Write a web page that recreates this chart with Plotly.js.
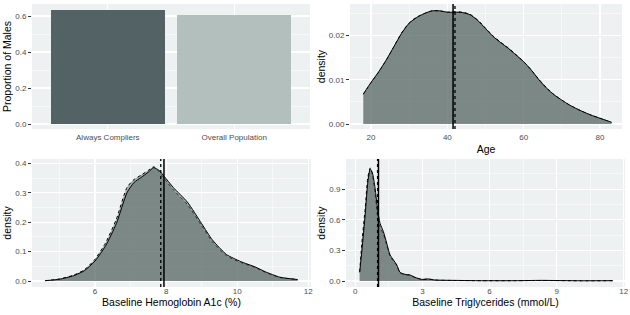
<!DOCTYPE html>
<html>
<head>
<meta charset="utf-8">
<script src="https://cdn.plot.ly/plotly-3.0.1.min.js"></script>
<style>html,body{margin:0;padding:0;background:#fff;}#chart{width:630px;height:315px;}</style>
</head>
<body>
<div id="chart"></div>
<script>
// ---- Data ----
const groups = ['Always Compliers', 'Overall Population'];
const propMales = [0.632, 0.607];
const barColors = ['#536265', '#b3bfbd'];

const ageX = [18, 20, 22, 24, 26, 28, 30, 32, 34, 36, 38, 40, 42, 44, 46, 48, 50, 52, 54, 56, 58, 60, 62, 64, 66, 68, 70, 72, 74, 76, 78, 80, 82, 83];
const ageCompliers = [0.0068, 0.0094, 0.0118, 0.0145, 0.0175, 0.0205, 0.0228, 0.0241, 0.0250, 0.0256, 0.0256, 0.0253, 0.0253, 0.0252, 0.0247, 0.0234, 0.0216, 0.0198, 0.0184, 0.0171, 0.0156, 0.0141, 0.0122, 0.0100, 0.0081, 0.0066, 0.0054, 0.0043, 0.0034, 0.0026, 0.0019, 0.0013, 0.0007, 0.0004];
const ageOverall   = [0.0067, 0.0093, 0.0117, 0.0144, 0.0175, 0.0206, 0.0229, 0.0242, 0.0250, 0.0256, 0.0256, 0.0253, 0.0254, 0.0253, 0.0248, 0.0235, 0.0217, 0.0199, 0.0185, 0.0172, 0.0157, 0.0141, 0.0122, 0.0101, 0.0082, 0.0066, 0.0054, 0.0043, 0.0034, 0.0026, 0.0019, 0.0013, 0.0007, 0.0004];
const ageMeans = [41.5, 42.0];

const hbX = [4.6, 5.0, 5.4, 5.7, 6.0, 6.3, 6.6, 6.9, 7.1, 7.3, 7.5, 7.65, 7.8, 7.95, 8.2, 8.6, 9.0, 9.3, 9.7, 10.1, 10.5, 10.8, 11.2, 11.7];
const hbCompliers = [0.001, 0.006, 0.018, 0.035, 0.068, 0.120, 0.195, 0.300, 0.335, 0.352, 0.370, 0.385, 0.376, 0.355, 0.318, 0.268, 0.195, 0.140, 0.090, 0.066, 0.048, 0.031, 0.013, 0.005];
const hbOverall   = [0.001, 0.007, 0.020, 0.038, 0.074, 0.130, 0.210, 0.318, 0.345, 0.360, 0.376, 0.388, 0.372, 0.348, 0.310, 0.260, 0.188, 0.134, 0.086, 0.063, 0.046, 0.029, 0.012, 0.005];
const hbMeans = [7.94, 7.85];

const tgX = [0.2, 0.3, 0.45, 0.56, 0.67, 0.77, 0.89, 1.0, 1.11, 1.26, 1.41, 1.56, 1.71, 1.86, 2.0, 2.23, 2.45, 2.67, 2.97, 3.27, 3.56, 4.46, 5.64, 7.13, 8.32, 10.1, 11.5];
const tgCompliers = [0.085, 0.30, 0.66, 0.96, 1.10, 1.06, 0.91, 0.70, 0.566, 0.484, 0.37, 0.255, 0.206, 0.157, 0.085, 0.065, 0.059, 0.036, 0.016, 0.02, 0.01, 0.006, 0.003, 0.003, 0.006, 0.002, 0.003];
const tgOverall   = [0.09, 0.38, 0.72, 1.01, 1.11, 1.04, 0.86, 0.64, 0.53, 0.46, 0.35, 0.24, 0.195, 0.15, 0.08, 0.062, 0.055, 0.034, 0.015, 0.018, 0.009, 0.005, 0.003, 0.003, 0.005, 0.002, 0.003];
const tgMeans = [1.04, 1.0];

// ---- Styling ----
const fillCol = 'rgba(85,101,98,0.5)';
const bg = '#edf1f2';
const FAM = 'Liberation Sans, Arial, sans-serif';
const tickFont = {family: FAM, size: 8, color: '#4d4d4d'};
const titleFont = {family: FAM, size: 10.5, color: '#000'};

function dens(x, y, xa, ya, dash) {
  return {x: x, y: y, xaxis: xa, yaxis: ya, type: 'scatter', mode: 'lines',
    fill: 'tozeroy', fillcolor: fillCol,
    line: {color: '#000', width: 1, dash: dash, shape: 'spline', smoothing: 0.6},
    hoverinfo: 'skip', showlegend: false};
}

const traces = [
  {x: groups, y: propMales, type: 'bar', xaxis: 'x', yaxis: 'y', width: 0.9,
   marker: {color: barColors}, showlegend: false, hoverinfo: 'skip'},
  dens(ageX, ageOverall, 'x2', 'y2', 'dot'),
  dens(ageX, ageCompliers, 'x2', 'y2', 'solid'),
  dens(hbX, hbOverall, 'x3', 'y3', 'dot'),
  dens(hbX, hbCompliers, 'x3', 'y3', 'solid'),
  dens(tgX, tgOverall, 'x4', 'y4', 'dot'),
  dens(tgX, tgCompliers, 'x4', 'y4', 'solid')
];

function vline(v, xref, yref, dash) {
  return {type: 'line', xref: xref, yref: yref + ' domain', x0: v, x1: v, y0: 0, y1: 1,
    line: {color: '#000', width: dash === 'solid' ? 1.5 : 1.3, dash: dash}, layer: 'above'};
}
const shapes = [
  vline(ageMeans[0], 'x2', 'y2', 'solid'), vline(ageMeans[1], 'x2', 'y2', 'dot'),
  vline(hbMeans[0], 'x3', 'y3', 'solid'), vline(hbMeans[1], 'x3', 'y3', 'dot'),
  vline(tgMeans[0], 'x4', 'y4', 'solid'), vline(tgMeans[1], 'x4', 'y4', 'dot')
];

function ax(extra) {
  return Object.assign({
    showgrid: true, gridcolor: '#ffffff', gridwidth: 1.1, zeroline: false, showline: false,
    ticks: 'outside', ticklen: 3, tickwidth: 1, tickcolor: '#333', tickfont: tickFont,
    automargin: false, fixedrange: true
  }, extra);
}
// x axes: labels without tick length (closer, like ggplot); separate overlay axes draw the tick marks
function xlab(extra) { return ax(Object.assign({ticks: ''}, extra)); }
function xtk(over, anchor, domain, range, dtick) {
  return {overlaying: over, anchor: anchor, domain: domain, range: range, dtick: dtick, tick0: 0,
    type: 'linear', showgrid: false, zeroline: false, showline: false, showticklabels: false,
    ticks: 'outside', ticklen: 3, tickwidth: 1, tickcolor: '#333', automargin: false, fixedrange: true};
}
function minor(d) { return {dtick: d, showgrid: true, gridcolor: '#ffffff', gridwidth: 0.5, ticklen: 0}; }

const W = 630, H = 315;
const xd = (a, b) => [a / W, b / W];
const yd = (top, bottom) => [1 - bottom / H, 1 - top / H];

const rA = [-0.6, 1.6], rB = [14.5, 85.76], rC = [4.228, 12.076], rD = [-0.411, 12.054];
const dA = xd(32, 310), dB = xd(350, 622), dC = xd(32, 311), dD = xd(346, 625);

const layout = {
  width: W, height: H, margin: {l: 0, r: 0, t: 0, b: 0},
  paper_bgcolor: '#fff', plot_bgcolor: bg, showlegend: false, bargap: 0,
  xaxis: xlab({domain: dA, anchor: 'y', type: 'category', range: rA, showgrid: true, ticklabelstandoff: 2}),
  yaxis: ax({domain: yd(4, 129), anchor: 'x', range: [-0.0278, 0.667], dtick: 0.2, tick0: 0, tickformat: '.1f',
    minor: minor(0.1), title: {text: 'Proportion of Males', font: titleFont, standoff: 1}}),
  xaxis2: xlab({domain: dB, anchor: 'y2', range: rB, dtick: 20, tick0: 0, minor: minor(10),
    ticklabelstandoff: 2, title: {text: 'Age', font: titleFont, standoff: 4}}),
  yaxis2: ax({domain: yd(4, 129), anchor: 'x2', range: [-0.00113, 0.02715], dtick: 0.01, tick0: 0, tickformat: '.2f',
    minor: minor(0.005), title: {text: 'density', font: titleFont, standoff: 1}}),
  xaxis3: xlab({domain: dC, anchor: 'y3', range: rC, dtick: 2, tick0: 0, minor: minor(1),
    ticklabelstandoff: -2, title: {text: 'Baseline Hemoglobin A1c (%)', font: titleFont, standoff: 0}}),
  yaxis3: ax({domain: yd(159, 287), anchor: 'x3', range: [-0.0204, 0.4146], dtick: 0.1, tick0: 0, tickformat: '.1f',
    minor: minor(0.05), title: {text: 'density', font: titleFont, standoff: 1}}),
  xaxis4: xlab({domain: dD, anchor: 'y4', range: rD, dtick: 3, tick0: 0, minor: minor(1.5),
    ticklabelstandoff: -2, title: {text: 'Baseline Triglycerides (mmol/L)', font: titleFont, standoff: 0}}),
  yaxis4: ax({domain: yd(159, 287), anchor: 'x4', range: [-0.0589, 1.197], dtick: 0.3, tick0: 0, tickformat: '.1f',
    minor: minor(0.15), title: {text: 'density', font: titleFont, standoff: 1}}),
  xaxis5: xtk('x', 'y', dA, rA, 1),
  xaxis6: xtk('x2', 'y2', dB, rB, 20),
  xaxis7: xtk('x3', 'y3', dC, rC, 2),
  xaxis8: xtk('x4', 'y4', dD, rD, 3),
  shapes: shapes
};

Plotly.newPlot('chart', traces, layout, {staticPlot: true, displayModeBar: false});
</script>
</body>
</html>
